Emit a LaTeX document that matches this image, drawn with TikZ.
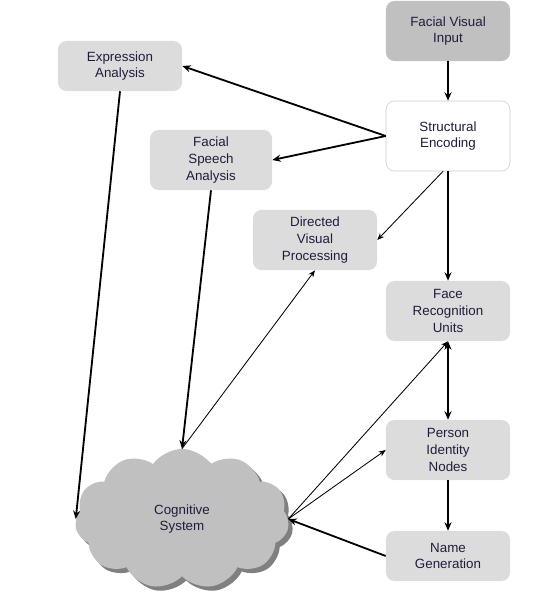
\documentclass[tikz,border=0pt]{standalone}
\usepackage{fontspec}
\setmainfont{Liberation Sans}
\usepackage{tikz}
\usetikzlibrary{shapes.symbols, shadows, arrows.meta}
\definecolor{txtcol}{RGB}{30,30,60}
\definecolor{boxfill}{RGB}{220,220,220}
\definecolor{darkfill}{RGB}{192,192,192}
\tikzstyle{stage}= [rectangle, rounded corners=6pt, fill=boxfill, text=txtcol, align=center, minimum width=3.1cm, minimum height=1.5cm, font=\fontsize{9.5}{12}\selectfont]
\tikzstyle{thk}= [line width=1.3pt, -{Stealth[length=6pt,width=5pt]}]
\tikzstyle{thn}= [line width=0.6pt, -{Stealth[length=5pt,width=4pt]}]

\begin{document}
\begin{tikzpicture}[x=0.025cm, y=-0.025cm]
				\useasboundingbox (0,0) rectangle (545,611);
				\node[stage, fill=darkfill] (fvi) at (448, 31) {Facial Visual\\Input};
				\node[stage, fill=white, draw=black!20, minimum height=1.75cm] (se) at (448, 136) {Structural\\Encoding};
				\node[stage, minimum height=1.25cm] (ea) at (120, 66) {Expression\\Analysis};
				\node[stage, minimum width=3.05cm] (fsa) at (211, 160) {Facial\\Speech\\Analysis};
				\node[stage] (dvp) at (315, 240) {Directed\\Visual\\Processing};
				\node[stage] (fru) at (448, 311) {Face\\Recognition\\Units};
				\node[stage] (pin) at (448, 450) {Person\\Identity\\Nodes};
				\node[stage, minimum height=1.25cm] (ng) at (448, 556) {Name\\Generation};
				\node[cloud, cloud puffs=11, cloud puff arc=110, aspect=1.55, fill=darkfill, text=txtcol, align=center, minimum width=5.35cm, minimum height=3.5cm, inner sep=0pt, font=\fontsize{9.5}{12}\selectfont, drop shadow={shadow xshift=3pt, shadow yshift=-3pt, fill=black!50, opacity=1}] (cog) at (182, 519) {Cognitive\\System};
				
				\draw[thk](fvi) -- (se);
				\draw[thk](se.west) -- (ea.east);
				\draw[thk](se.west) -- (fsa.east);
				\draw[thn](se.262) -- (dvp.east);
				\draw[thk](se.south) -- (fru.north);
				\draw[thk, {Stealth[length=6pt,width=5pt]}-{Stealth[length=6pt,width=5pt]}](fru.south) -- (pin.north);
				\draw[thk](pin) -- (ng);
				\draw[thk](ea.south) -- (cog.west);
				\draw[thk](fsa.south) -- (cog.north);
				\draw[thn](cog.north) -- (dvp.south);
				\draw[thn](cog.east) -- (fru.south);
				\draw[thn](cog.east) -- (pin.west);
				\draw[thk](ng.west) -- (cog.east);
			\end{tikzpicture}
\end{document}
